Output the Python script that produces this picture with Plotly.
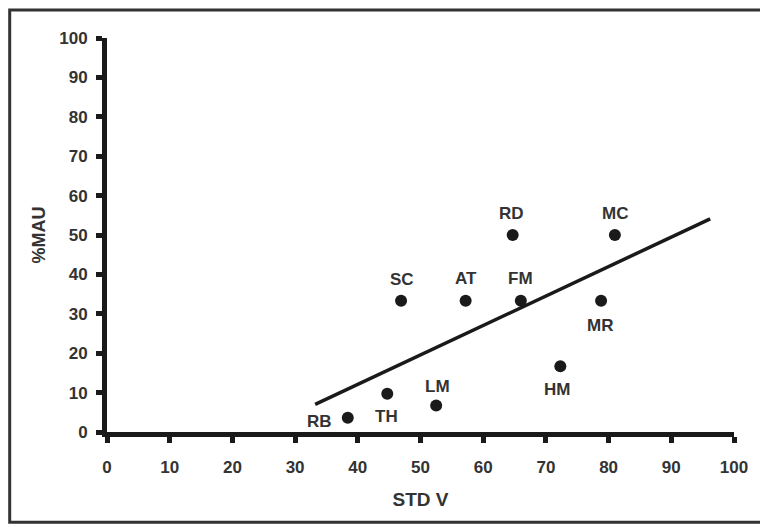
import plotly.graph_objects as go

# ---- data ----
sites = ["RB", "TH", "LM", "SC", "AT", "FM", "RD", "MC", "MR", "HM"]
std_v = [38.4, 44.7, 52.5, 46.9, 57.2, 66.0, 64.7, 81.0, 78.8, 72.3]
pct_mau = [3.6, 9.7, 6.7, 33.3, 33.3, 33.3, 50.0, 50.0, 33.3, 16.7]

fit_x = [33.2, 96.2]
fit_y = [7.0, 54.1]

x_ticks = [0, 10, 20, 30, 40, 50, 60, 70, 80, 90, 100]
y_ticks = [0, 10, 20, 30, 40, 50, 60, 70, 80, 90, 100]

# label offsets in pixels (dx, dy)  -- styling only
label_offsets = {
    "RB": (-28, -4), "TH": (-1, -23), "LM": (1, 19), "SC": (1, 21),
    "AT": (0, 22), "FM": (0, 22), "RD": (-1, 22), "MC": (0, 22),
    "MR": (-1, -25), "HM": (-3, -23),
}

W, H = 760, 527
ML, MR_, MT, MB = 106.5, 22, 37.5, 94.5
PW = W - ML - MR_
PH = H - MT - MB

FONT = "Liberation Sans, Arial, sans-serif"
TXT = "#333333"
INK = "#1a1a1a"

fig = go.Figure()

fig.add_trace(go.Scatter(
    x=fit_x, y=fit_y, mode="lines",
    line=dict(color=INK, width=3.5),
    hoverinfo="skip", showlegend=False,
))

fig.add_trace(go.Scatter(
    x=std_v, y=pct_mau, mode="markers",
    marker=dict(color=INK, size=12, line=dict(width=0)),
    text=sites, showlegend=False, cliponaxis=False,
))

for s, xv, yv in zip(sites, std_v, pct_mau):
    dx, dy = label_offsets[s]
    fig.add_annotation(
        x=xv, y=yv, text=s, showarrow=False,
        xshift=dx, yshift=dy,
        font=dict(family=FONT, size=17, color=TXT, weight="bold"),
    )

# outer frame (extends beyond right edge as in the reference)
def px2paper_x(px):
    return (px - ML) / PW

def px2paper_y(py):
    return (H - MB - py) / PH

fig.add_shape(
    type="rect", xref="paper", yref="paper",
    x0=px2paper_x(8.5), x1=px2paper_x(775),
    y0=px2paper_y(523), y1=px2paper_y(9.5),
    line=dict(color="#333333", width=3), fillcolor="rgba(0,0,0,0)",
    layer="above",
)

axis_common = dict(
    showline=True, linecolor=INK, linewidth=5,
    ticks="outside", ticklen=6, tickwidth=5, tickcolor=INK,
    showgrid=False, zeroline=False,
    tickfont=dict(family=FONT, size=17, color=TXT, weight="bold"),
    fixedrange=True,
)

fig.update_xaxes(
    range=[0, 100], tickvals=x_ticks, ticktext=[str(t) for t in x_ticks],
    ticklabelstandoff=10,
    title=dict(text="STD V", standoff=18,
               font=dict(family=FONT, size=19, color=TXT, weight="bold")),
    **axis_common,
)
fig.update_yaxes(
    range=[0, 100], tickvals=y_ticks, ticktext=[str(t) for t in y_ticks],
    ticklabelstandoff=5,
    title=dict(text="%MAU", standoff=10,
               font=dict(family=FONT, size=18, color=TXT, weight="bold")),
    **axis_common,
)

fig.update_layout(
    width=W, height=H, autosize=False,
    margin=dict(l=ML, r=MR_, t=MT, b=MB, pad=0),
    paper_bgcolor="white", plot_bgcolor="white",
    showlegend=False,
)

fig.write_html(
    "out.html",
    config={"displayModeBar": False, "staticPlot": True},
    post_script="document.body.style.margin='0';document.body.style.overflow='hidden';",
)
